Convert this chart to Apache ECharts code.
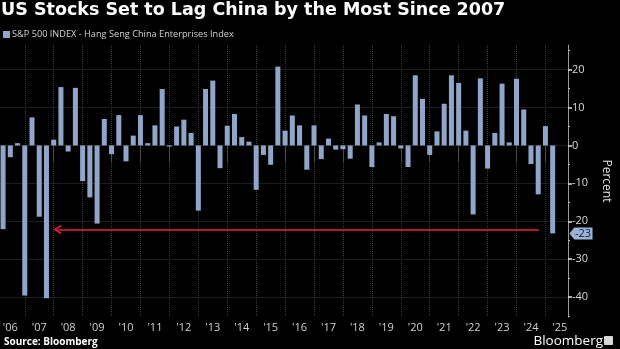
<!DOCTYPE html>
<html><head><meta charset="utf-8">
<script src="https://cdn.jsdelivr.net/npm/echarts@6/dist/echarts.min.js"></script>
<style>html,body{margin:0;padding:0;background:#000}#c{width:620px;height:349px}</style>
</head><body><div id="c"></div>
<script>
const titleText = 'US Stocks Set to Lag China by the Most Since 2007';
const seriesName = 'S&P 500 INDEX - Hang Seng China Enterprises Index';
const firstYear = 2006; // first quarter: 2006 Q1
// Quarterly difference in returns, percent (2006 Q1 .. 2025 Q1)
const values = [
  -22.1, -3.1, 0.6, -39.6,
  7.4, -18.8, -40.3, 1.5,
  15.4, -1.6, 15.2, -9.4,
  -13.7, -20.6, 7.0, -2.3,
  8.0, -4.2, 2.6, 8.0,
  0.6, 5.3, 14.9, -0.3,
  5.0, 6.8, 3.3, -17.2,
  14.9, 17.1, -6.0, 5.2,
  8.3, 2.2, 1.0, -11.7,
  -2.5, -5.1, 20.8, 3.9,
  7.9, 5.3, -6.4, 5.3,
  -3.6, 1.8, -1.1, -1.0,
  -3.5, 10.8, 7.9, -5.7,
  0.8, 8.3, 7.7, -0.8,
  -5.7, 18.5, 12.3, -2.5,
  3.7, 11.0, 18.5, 16.5,
  3.9, -18.2, 17.7, -6.1,
  3.3, 16.3, 0.8, 17.6,
  9.5, -4.9, -12.9, 5.1,
  -23.2
];
const yTicks = [20, 10, 0, -10, -20, -30, -40];
const yMinorTicks = [25, 15, 5, -5, -15, -25, -35, -45];
const yearTicks = [2007, 2008, 2009, 2010, 2011, 2012, 2013, 2014, 2015, 2016, 2017, 2018, 2019, 2020, 2021, 2022, 2023, 2024, 2025];
const yearLabelYears = [2006, 2007, 2008, 2009, 2010, 2011, 2012, 2013, 2014, 2015, 2016, 2017, 2018, 2019, 2020, 2021, 2022, 2023, 2024, 2025];
const yearLabels = ["'06", "'07", "'08", "'09", "'10", "'11", "'12", "'13", "'14", "'15", "'16", "'17", "'18", "'19", "'20", "'21", "'22", "'23", "'24", "'25"];
const arrowLevel = -22.2;
const arrowFrom = 2008.13;
const arrowTo = 2024.77;

const xMin = 2006.16, xMax = 2025.78;
const yMin = -45.26, yMax = 26.5;

// bars plotted at quarter-end positions (decimal years)
const quarterPos = values.map((v, i) => firstYear + (i + 1) / 4);
const data = values.map((v, i) => [quarterPos[i], v]);
const lastValue = values[values.length - 1];
const labelPos = yearLabelYears.map(y => y + 0.5);

const barColor = '#8fa6c9';
const FONT = 'Open Sans';

const chart = echarts.init(document.getElementById('c'), null, {renderer: 'canvas'});
chart.setOption({
  backgroundColor: '#000',
  animation: false,
  textStyle: {fontFamily: FONT},
  title: [
    {text: titleText, left: 1, top: 1, padding: 0,
     textStyle: {color: '#fff', fontSize: 17.5, fontWeight: 'bold', fontFamily: 'DejaVu Sans'}},
    {text: 'Source: Bloomberg', left: 4, bottom: 2, padding: 0,
     textStyle: {color: '#fff', fontSize: 10, fontWeight: 'bold', fontFamily: FONT}},
    {text: 'Bloomberg', right: 17, bottom: 1, padding: 0,
     textStyle: {color: '#fff', fontSize: 13.5, fontWeight: 'normal', fontFamily: FONT}}
  ],
  legend: {
    left: 3, top: 30, padding: 0,
    icon: 'rect', itemWidth: 7, itemHeight: 7,
    textStyle: {color: '#d0d0d0', fontSize: 9.2, fontFamily: FONT, padding: [0, 0, 0, -3]},
    data: [seriesName]
  },
  grid: {left: 0, right: 41, top: 45, bottom: 32, containLabel: false},
  xAxis: {
    type: 'value', min: xMin, max: xMax,
    axisLine: {show: false},
    axisTick: {show: true, customValues: yearTicks, length: 17, lineStyle: {color: '#4a4a4a'}},
    splitLine: {show: true, lineStyle: {color: '#3a3a3a', type: 'dotted'}},
    axisLabel: {
      customValues: labelPos, color: '#d0d0d0', fontSize: 11, margin: 5,
      formatter: v => yearLabels[yearLabelYears.indexOf(Math.round(v - 0.5))]
    }
  },
  yAxis: [
    {
      type: 'value', position: 'right', min: yMin, max: yMax,
      name: 'Percent', nameLocation: 'middle', nameRotate: -90, nameGap: 32,
      nameTextStyle: {color: '#e0e0e0', fontSize: 12},
      axisLine: {show: true, lineStyle: {color: '#9a9a9a'}},
      axisTick: {show: true, customValues: yTicks, length: 4, lineStyle: {color: '#e0e0e0', width: 1.5}},
      axisLabel: {customValues: yTicks, color: '#d8d8d8', fontSize: 11, margin: 4},
      splitLine: {show: true, lineStyle: {color: '#3a3a3a', type: 'dotted'}}
    },
    {
      type: 'value', position: 'right', min: yMin, max: yMax,
      axisLine: {show: false},
      axisTick: {show: true, customValues: yMinorTicks, length: 2, lineStyle: {color: '#bbbbbb'}},
      axisLabel: {show: false},
      splitLine: {show: false}
    }
  ],
  series: [{
    name: seriesName, type: 'bar', data: data, barWidth: 5,
    itemStyle: {color: barColor},
    markLine: {
      silent: true, animation: false,
      lineStyle: {color: '#e8203a', width: 1.6, type: 'solid'},
      label: {show: false},
      data: [[
        {coord: [arrowFrom, arrowLevel], symbol: 'path://M5,0 L10,7 L8.6,8 L5,3 L1.4,8 L0,7 Z', symbolSize: [9, 8]},
        {coord: [arrowTo, arrowLevel], symbol: 'none'}
      ]]
    },
    markPoint: {
      silent: true, animation: false,
      symbol: 'path://M0,6 L5,0 L24,0 L24,12 L5,12 Z',
      symbolSize: [23, 12], symbolKeepAspect: false,
      symbolOffset: [13, 0],
      itemStyle: {color: '#9db3d6'},
      label: {show: true, position: 'inside', color: '#0b1a3a', fontSize: 11, offset: [2, 0],
              formatter: p => String(Math.round(p.value))},
      data: [{coord: [xMax, lastValue], value: lastValue}]
    }
  }],
  graphic: [
    {type: 'rect', right: 7, bottom: 4, shape: {width: 9, height: 9, r: 1}, style: {fill: '#d8d8d8'}}
  ]
});
</script></body></html>
